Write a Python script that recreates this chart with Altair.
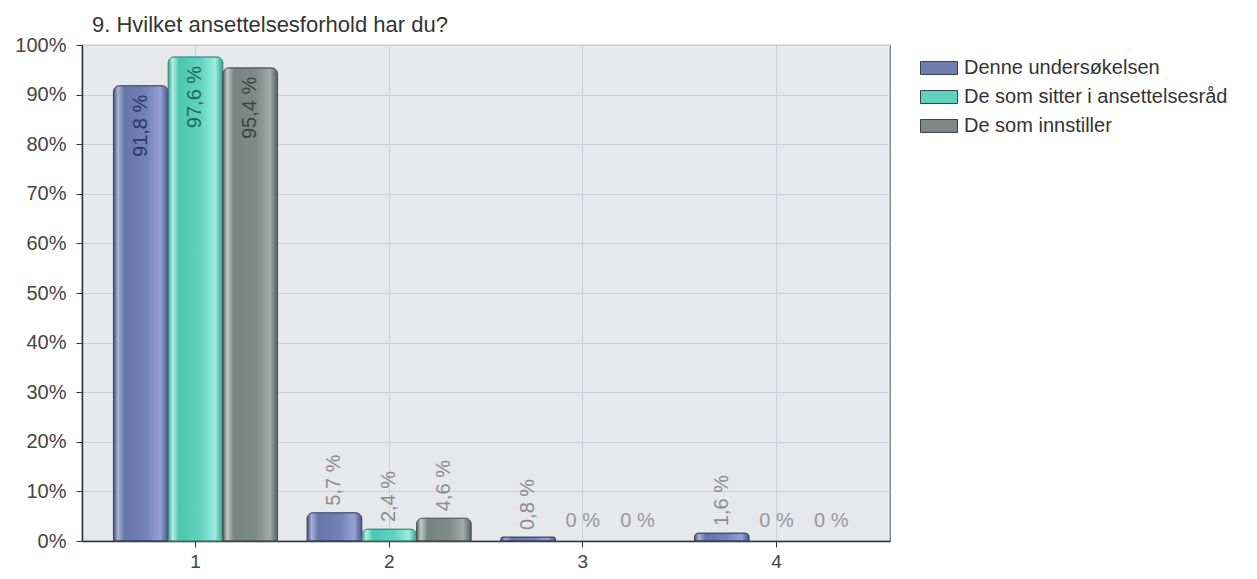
import altair as alt
import pandas as pd

categories = ["1", "2", "3", "4"]
series = ["Denne undersøkelsen", "De som sitter i ansettelsesråd", "De som innstiller"]
denne = [91.8, 5.7, 0.8, 1.6]
raad = [97.6, 2.4, 0.0, 0.0]
innstiller = [95.4, 4.6, 0.0, 0.0]
y_ticks = [0, 10, 20, 30, 40, 50, 60, 70, 80, 90, 100]
title_text = "9. Hvilket ansettelsesforhold har du?"

base_cols = ["#6f7db0", "#5fd2be", "#7c8985"]
grads = [
    ["#3e4a75", "#a9b3d6", "#6676a8", "#7382b8", "#95a2d2", "#4a5785"],
    ["#3a9b8a", "#b0f0e4", "#4cc7b2", "#63d3c0", "#9aeee0", "#3d9d8c"],
    ["#56605d", "#c3cac8", "#76837f", "#7e8b87", "#a0aaa7", "#56605d"],
]
strokes = ["#3b4468", "#3a8a7c", "#4a5350"]
inside_text = ["#2c3868", "#1c6a5d", "#3b4441"]
offsets = [0, 0.08, 0.2, 0.6, 0.86, 1]

rows = []
for s, vals in zip(series, [denne, raad, innstiller]):
    for c, v in zip(categories, vals):
        lab = "0 %" if v == 0 else (f"{v:.1f}".replace(".", ",") + " %")
        rows.append({"cat": c, "series": s, "value": v, "label": lab})
df = pd.DataFrame(rows)

FONT = "Liberation Sans"
x_enc = alt.X("cat:N", sort=categories,
              scale=alt.Scale(paddingInner=0, paddingOuter=0.086),
              axis=alt.Axis(title=None, labelAngle=0, labelFontSize=19, labelColor="#444",
                            labelFont=FONT, domainColor="#333", domainWidth=1.5,
                            tickColor="#333", tickSize=6, labelPadding=5,
                            grid=True, gridColor="#cdd0d5"))
xo_enc = alt.XOffset("series:N", sort=series,
                     scale=alt.Scale(domain=series, paddingInner=0, paddingOuter=0.27))
y_enc = alt.Y("value:Q", scale=alt.Scale(domain=[0, 100], nice=False),
              axis=alt.Axis(title=None, values=y_ticks, labelExpr="datum.value + '%'",
                            labelFontSize=20, labelColor="#444", labelFont=FONT,
                            domainColor="#333", domainWidth=1.5, tickColor="#333",
                            tickSize=6, labelPadding=10, gridColor="#cdd0d5"))

legend = alt.Legend(title=None, orient="none", legendX=838, legendY=4,
                    symbolType="M-1,-0.35L1,-0.35L1,0.35L-1,0.35Z", symbolSize=1369,
                    symbolStrokeColor="#3a3f50", symbolStrokeWidth=1, symbolOpacity=1,
                    rowPadding=-7, labelOffset=6, labelFontSize=20, labelFont=FONT,
                    labelColor="#333", labelLimit=400, padding=0)

legend_layer = alt.Chart(df).mark_bar(opacity=0).encode(
    x=x_enc, xOffset=xo_enc, y=y_enc,
    color=alt.Color("series:N", sort=series,
                    scale=alt.Scale(domain=series, range=base_cols), legend=legend),
)

layers = [legend_layer]
for i, s in enumerate(series):
    grad = {"gradient": "linear", "x1": 0, "x2": 1, "y1": 0, "y2": 0,
            "stops": [{"offset": o, "color": c} for o, c in zip(offsets, grads[i])]}
    layers.append(
        alt.Chart(df).transform_filter((alt.datum.series == s) & (alt.datum.value > 0))
        .mark_bar(cornerRadiusTopLeft=6, cornerRadiusTopRight=6, stroke=strokes[i],
                  strokeWidth=1)
        .encode(x=x_enc, xOffset=xo_enc, y=y_enc, fill=alt.value(grad))
    )
    layers.append(
        alt.Chart(df).transform_filter((alt.datum.series == s) & (alt.datum.value > 50))
        .mark_text(angle=270, align="right", baseline="middle", dx=-9, fontSize=20,
                   font=FONT, color=inside_text[i])
        .encode(x=x_enc, xOffset=xo_enc, y=y_enc, text="label:N")
    )

small = alt.Chart(df).transform_filter((alt.datum.value > 0) & (alt.datum.value <= 50)).mark_text(
    angle=270, align="left", baseline="middle", dx=7, fontSize=20, font=FONT, color="#8c8c8c"
).encode(x=x_enc, xOffset=xo_enc, y=y_enc, text="label:N")

zero = alt.Chart(df).transform_filter(alt.datum.value == 0).mark_text(
    align="center", baseline="bottom", dy=-10, fontSize=20, font=FONT, color="#999999"
).encode(x=x_enc, xOffset=xo_enc, y=y_enc, text="label:N")

chart = alt.layer(*layers, small, zero).properties(
    width=808, height=496,
    title=alt.TitleParams(title_text, anchor="start", frame="group", fontSize=22, font=FONT,
                          fontWeight="normal", color="#333", offset=-2, dx=10),
    autosize=alt.AutoSizeParams(type="none"),
    padding={"left": 74, "top": 37, "right": 355, "bottom": 30},
).configure_view(fill="#e6e8eb", stroke="#777777", strokeWidth=1.2)

chart.save("out.html", embed_options={"renderer": "svg", "actions": False})
